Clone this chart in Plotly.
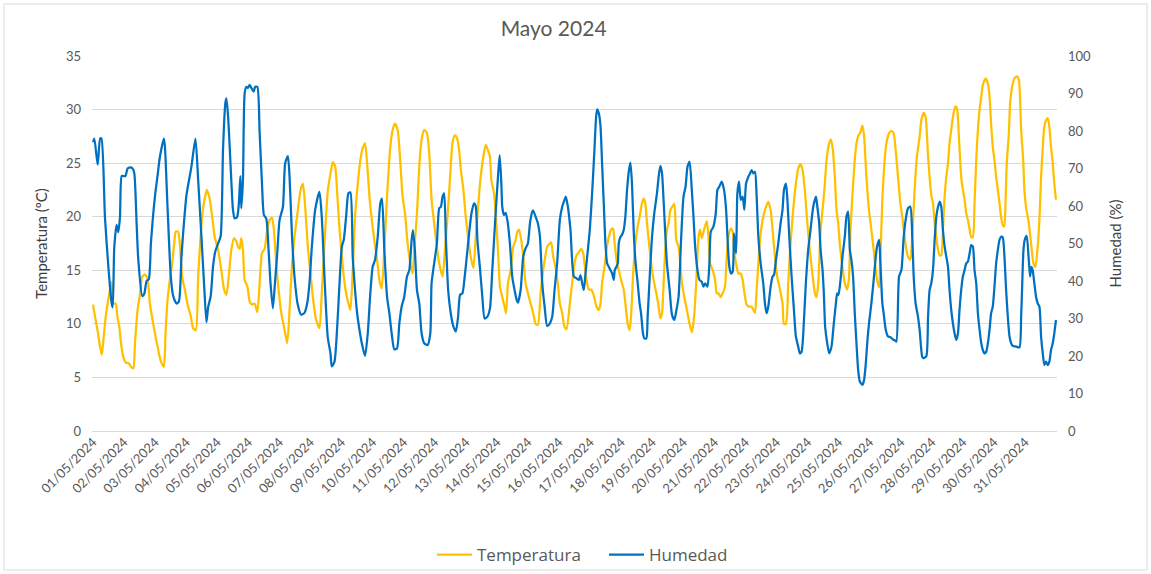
import pandas as pd
import plotly.graph_objects as go

# ---- data (hours since 01/05/2024 00:00) ----
temp_hours = [0, 1.5, 3.6, 4.6, 6.7, 8, 9.8, 11.3, 13.1, 14.4, 15.7, 17.5, 18.75, 20.3, 21.6, 23.4, 25.2, 27.7, 29.3, 31.1,
              32.4, 34.4, 36.2, 38, 40.1, 42.1, 43.9, 46.5, 48.3, 50.3, 52.4, 54.7, 56, 57.5, 59.3, 61.1, 62.7, 63.9, 65.7, 67,
              68.8, 70.9, 72.9, 75.5, 77.3, 79.4, 81.2, 83.2, 85, 88, 90.2, 92, 94, 96.6, 99.1, 101.2, 103, 104.8, 106.8, 108.9,
              110.7, 112, 113.3, 114.5, 115.8, 117.1, 119.2, 121, 122.8, 124.8, 126.9, 128.7, 130.5, 132.5, 134.6, 136.4, 138.2,
              139.7, 141.5, 143.3, 145.4, 148, 150, 151.8, 153.6, 155.6, 158.2, 160.3, 162.1, 163.9, 165.9, 168, 169.8, 172.3,
              174.9, 176.7, 178.8, 181.4, 183.4, 185.2, 187, 188.6, 190.4, 192.2, 193.7, 195.5, 197.3, 198.8, 200.6, 202.4, 204.5,
              206.5, 208.3, 210.1, 211.7, 213.5, 215.3, 217.3, 219.4, 221.2, 223, 225, 227.1, 229.6, 231.4, 233.2, 235.3, 237.4,
              239.1, 241, 243, 245.1, 246.9, 248.1, 250.2, 252, 253.8, 255.8, 257.9, 259.7, 261.5, 263.5, 265.6, 267.4, 270,
              271.8, 273.8, 275.8, 277.6, 279.4, 281, 282.8, 284.1, 286.1, 287.9, 289.7, 291.7, 293.8, 295.6, 297.4, 299.4, 301.5,
              303.3, 305.1, 306.6, 307.7, 309.7, 311, 312.8, 314.3, 316.1, 317.9, 319, 320.5, 322.6, 324.6, 326.4, 327.7, 329,
              330.8, 332.3, 334.1, 335.9, 338, 340, 341.8, 343.6, 345.7, 347.7, 349.5, 350.8, 352.9, 353.9, 355.4, 357.2, 359,
              360.6, 362.4, 364.2, 365.7, 368.3, 370.1, 371.9, 373.5, 375.3, 377.1, 378.6, 379.6, 381.2, 383, 384.8, 386.3, 387.3,
              388.9, 390.7, 392, 393.2, 395, 396.6, 398.4, 400.2, 401.7, 402.7, 404.3, 406.1, 407.9, 409.9, 411.2, 413, 414.5,
              415.6, 417.1, 418.9, 420.7, 422.2, 424, 425.3, 426.6, 427.9, 430, 431.8, 433.5, 435.1, 436.9, 438.2, 439.5, 440.7,
              442, 443.3, 444.6, 445.9, 447.2, 449, 450.5, 452.3, 453.6, 454.9, 456.7, 458.7, 460.8, 462.6, 464.3, 465.9, 467.7,
              468.9, 470.2, 472, 474.1, 475.4, 476.6, 478.7, 480.5, 481.8, 483.1, 484.9, 486.9, 488.2, 489.5, 490.8, 492.6, 494.1,
              495.1, 496.7, 498.5, 500.3, 501.8, 502.8, 504.9, 506.9, 508.7, 510, 511.3, 512.6, 513.9, 515.7, 517.7, 519.8, 521.6,
              523.4, 524.9, 526.7, 528.5, 530.6, 532.6, 533.7, 535.2, 537, 538.8, 540.8, 542.9, 544.7, 546.5, 548, 549.8, 551.6,
              553.7, 556.3, 557.6, 558.9, 560.2, 562, 564, 565.3, 566.6, 568.6, 569.9, 571.2, 573, 574.3, 575.6, 576.8, 578.9,
              580.7, 582.5, 583.8, 585.1, 587.1, 588.4, 589.7, 591, 592.8, 594.3, 595.6, 597.4, 599.4, 601.2, 603, 604.6, 605.6,
              607.2, 608.2, 609.7, 611.5, 612.8, 614.9, 616.7, 618.4, 620, 621.8, 623.6, 625.1, 626.9, 628.7, 630.3, 631.3, 632.8,
              634.6, 636.4, 638.5, 639.8, 641.6, 643.1, 645, 646.2, 647.5, 648.8, 650.1, 651.4, 652.7, 654, 655.2, 656.5, 657.8,
              659.1, 660.4, 661.6, 662.9, 664.7, 666.3, 667.5, 668.8, 670.6, 671.9, 673.2, 674.5, 675.8, 677.1, 678.3, 679.6,
              680.9, 682.2, 683.5, 684.8, 686.1, 687.3, 689.4, 691.2, 692.5, 693.7, 695, 696.3, 697.6, 698.9, 700.2, 701.4, 702.7,
              703.8, 704.8, 705.8, 707.4, 708.4, 709.9, 711.7, 713.5, 715.1, 716.9, 718.5, 719.4, 720.7, 722.8, 724.6, 726.4,
              727.9, 729.7, 731, 732.3, 733.6, 734.8, 736.1, 737.4, 738.7, 740, 741.3, 742.5, 743.8]
temp_values = [11.8, 10.7, 9.3, 8.5, 7.1, 8.5, 10.7, 11.9, 13.2, 13.9, 11.9, 11.9, 10.7, 9.7, 8.2, 6.9, 6.4, 6.3, 6.0, 5.85,
               8.2, 11.3, 12.7, 14.4, 14.6, 14.2, 11.9, 10, 8.8, 7.6, 6.5, 6.0, 9.1, 12.2, 14.1, 15.6, 17.5, 18.6, 18.6, 17.5,
               14.4, 13.2, 11.9, 10.7, 9.6, 9.4, 14.4, 18.4, 20.8, 22.5, 21.6, 20, 18.1, 16.9, 15, 13.2, 12.7, 14.4, 16.9, 18,
               17.7, 17.2, 17, 18, 16.9, 14.1, 13.5, 12.1, 11.8, 11.9, 11.1, 13.8, 16.6, 17, 18.8, 19.7, 19.9,
               18.8, 15.6, 13.2, 11, 9.4, 8.2, 11.3, 15.3, 18.1, 20.6, 22.5, 23.1, 20.9, 17.2, 14.7, 12.5, 10.4,
               9.6, 12.9, 17.5, 22.5, 24, 25.1, 24.7, 22.2, 18.8, 16.3, 14.4, 12.85, 11.9, 11.3, 15, 20, 23.1,
               25.3, 26.4, 26.85, 25, 21.9, 19.7, 17.8, 16, 14.1, 13.3, 16.9, 21.9, 26.5, 28.1, 28.7, 28.1, 25,
               21.9, 20.3, 17.5, 15.65, 14.7, 16.9, 20.3, 24.7, 27.2, 28.1, 27.8, 25.9, 21.6, 19.4, 17.2, 15.65, 14.4,
               16.9, 20, 23.7, 26.85, 27.6, 27.4, 26.2, 24.4, 22.5, 20, 18.1, 16.3, 15.2, 18.1, 20.9, 23.7, 25.6,
               26.7, 26.2, 25.6, 23.4, 22.2, 20.3, 16.9, 13.5, 12.5, 11.6, 11, 13.8, 15, 17.2, 17.8, 18.6, 18.8,
               17.8, 16.3, 13.8, 12.85, 11.9, 11, 10, 9.9, 12.85, 15, 16.4, 17.2, 17.5, 17.6, 16.3, 15.3, 13.8,
               11.9, 11, 9.7, 9.5, 11.9, 13.8, 15.65, 16.4, 16.7, 17, 16.6, 15.65, 14.1, 13.2, 13.2, 12.85, 12.4,
               11.6, 11.3, 11.9, 13.8, 15.3, 16.9, 18.1, 18.8, 18.9, 17.8, 16, 15, 14.1, 13.2, 11.9, 10, 9.4,
               10.7, 14.4, 17.5, 19.1, 20, 21.25, 21.7, 21.25, 19.4, 16.9, 15, 13.8, 12.85, 11.6, 10.5, 11, 13.8,
               16.9, 18.8, 19.4, 20.6, 20.9, 21.2, 17.8, 17.2, 15.65, 13.8, 12.5, 11.3, 10, 9.2, 10.7, 13.8, 18.1,
               18.8, 18, 18.8, 19.6, 18.1, 15.65, 15, 14.1, 12.85, 12.85, 12.5, 13, 13.5, 16.3, 18.1, 18.9, 18.6,
               16.9, 15.65, 14.7, 14.7, 14.1, 13.2, 11.8, 11.6, 11.6, 11.3, 11, 13.2, 15.65, 18.45, 20, 20.9, 21.4,
               20.6, 18.8, 16.3, 14.4, 13.2, 11.9, 10, 10, 13.8, 17.5, 20.6, 23.1, 24.5, 24.9, 24.4, 22.5, 19.6,
               16.8, 14, 12.85, 12.5, 13.8, 18.8, 21.25, 23.1, 25.3, 26.85, 27.2, 26.5, 23.7, 20.6, 19.4, 17.5, 15.3,
               13.8, 13.2, 14.1, 18.8, 23.1, 25.3, 26.85, 27.5, 27.9, 28.5, 27.5, 23.7, 20.6, 18.8, 16.9, 15, 14.1,
               13.4, 16.3, 21.6, 25.3, 26.85, 27.8, 28, 27.8, 26.2, 23.7, 21.25, 20, 18.1, 16.6, 16.1, 16, 18.1,
               22.5, 25.6, 27.5, 29, 29.7, 29.3, 25.6, 23.7, 22, 21.25, 19.4, 18.1, 16.9, 16.4, 16.4, 18.8, 21.9,
               23.7, 25, 26.85, 28.1, 29.65, 30.3, 30, 27.5, 23.7, 22.5, 21.6, 20.3, 19.7, 18.8, 18.1, 18.1,
               21.25, 25.3, 28.1, 30, 31.2, 32.3, 32.9, 32.45, 31.2, 28.7, 26.5, 25.3, 23.7, 22.5, 21.25, 20, 19.2,
               19.1, 21.25, 25, 27.8, 30.6, 32.1, 32.9, 33.1, 32.8, 28.1, 25.3, 22.5, 20.9, 19.4, 17.5, 15.65,
               15.3, 17.2, 19.7, 23.7, 26.5, 28.4, 29, 29.2, 28.4, 26.5, 25, 23.1, 21.6]

hum_hours = [0, 1, 3.6, 5.5, 6.5, 9.2, 11.8, 14.4, 15.2, 16.4, 18.2, 19.5, 20.8, 22.1, 23.4, 25, 26.7, 28.5, 30.6, 31.9,
             33.7, 34.9, 38, 39.5, 41.4, 43.1, 44.7, 47.8, 49.8, 51.6, 54.7, 55.5, 57.5, 60.1, 61.9, 64.5, 66.3, 68.3, 70.1,
             72.2, 76, 79.1, 81.2, 83.7, 85.8, 87.6, 88.9, 90.9, 92.7, 94.5, 96.6, 98.6, 100.4, 102.2, 103, 104.3, 106.3, 108.1,
             109.4, 111.2, 112.5, 113.8, 114.5, 115.8, 117.1, 118.4, 119.7, 121, 122.3, 124, 125.3, 126.9, 128.7, 130.5, 132,
             133.8, 135.6, 137.1, 138.9, 140.7, 142.3, 144.1, 146.7, 148.4, 150.5, 151.8, 153.6, 155.6, 158.2, 160.8, 163.3,
             165.4, 167.2, 169, 171.6, 174.9, 176.7, 178.8, 181.3, 183.4, 184.4, 186.5, 188.6, 190.4, 192.2, 193.7, 195.5,
             197.3, 198.8, 200.6, 202.4, 204, 205.8, 207.6, 210.1, 212.2, 214, 216, 217.8, 219.9, 221.9, 223.2, 225, 227.1,
             228.9, 230.7, 232.7, 234.8, 236.6, 238.4, 240.4, 242.5, 244.3, 246.1, 247.1, 248.6, 250.2, 252, 253.8, 255.8,
             258.4, 260.5, 261.5, 263.5, 265.6, 267.4, 268.7, 270, 271.2, 272.5, 274.3, 276.3, 278.4, 280.2, 282, 283.5, 285.3,
             287.1, 288.7, 290.5, 292.3, 294.3, 295.6, 296.9, 299, 300.7, 302.5, 304.6, 306.6, 308.4, 310.2, 311.8, 312.8,
             314.1, 315.4, 316.1, 317.4, 318.7, 320, 322, 323.8, 325.6, 327.2, 328.2, 330.3, 332.3, 334.1, 335.9, 337.5, 339.3,
             340, 341.8, 343.6, 345.2, 347, 348.8, 350.8, 352.9, 354.7, 356.5, 358.5, 360.6, 362.4, 364.2, 365.2, 366.7, 368.8,
             371.4, 373.5, 375.3, 376.5, 377.8, 379.1, 380.4, 381.7, 383.7, 385.5, 387.3, 388.6, 389.4, 390.7, 392, 393.2,
             394.5, 395.8, 397.1, 398.4, 399.7, 401, 402.2, 403, 404.3, 405.3, 406.1, 407.4, 408.6, 409.9, 411.2, 412.5, 414,
             415.1, 416.3, 417.6, 418.9, 420.7, 422.2, 423.3, 424.8, 425.8, 427.4, 428.4, 430, 431.8, 433.5, 435.6, 436.9,
             438.2, 439.5, 440.7, 442, 443.3, 445.4, 447.2, 449, 450.5, 452.3, 454.1, 456.1, 457.7, 459.2, 460.8, 462.5, 463.8,
             465.1, 466.9, 468.4, 470.2, 471.5, 472.8, 474.6, 476.1, 477.2, 479.2, 481, 482.3, 483.8, 485.6, 487.4, 489, 490.3,
             491.5, 492.8, 494.1, 495.1, 496.7, 497.7, 499, 500.3, 501.8, 503.1, 504.4, 506.2, 507.5, 508.7, 510, 511.3, 512.6,
             513.9, 515.7, 517.7, 519, 520.3, 521.6, 523.4, 524.9, 526, 527.5, 529.3, 531.1, 532.6, 533.7, 535.2, 536.2, 537.8,
             539.6, 541.4, 542.9, 544.7, 546, 547.3, 548.6, 550.6, 552.4, 554.2, 556.3, 558.4, 559.4, 560.9, 562, 563.5, 564.5,
             565.5, 567.1, 568.6, 570.4, 572.2, 573.8, 574.8, 575.8, 577.4, 578.9, 580.7, 582, 583.3, 584.6, 585.8, 587.1,
             588.4, 589.7, 591, 592.3, 594.3, 595.6, 596.9, 598.2, 599.4, 601.2, 603, 604.6, 605.6, 607.2, 608.2, 609.7, 610.7,
             612.3, 614.1, 615.9, 617.9, 619.2, 620.5, 622.6, 624.4, 626.2, 627.7, 629.5, 631.3, 632.8, 633.9, 635.4, 637.2,
             638.5, 640.5, 641.6, 643.7, 645, 646.2, 647.5, 648.8, 650.1, 651.4, 652.7, 654, 655.2, 656.5, 657.8, 659.1, 660.4,
             661.6, 662.9, 664.2, 665.5, 666.8, 668.1, 669.3, 670.6, 671.9, 673.2, 674.5, 675.8, 677.1, 678.3, 679.6, 680.9,
             682.2, 683.5, 684.8, 686.1, 687.3, 688.6, 689.9, 691.2, 692.5, 693.7, 695, 696.3, 697.6, 698.9, 700.2, 701.4,
             702.7, 704, 705.3, 706.6, 707.9, 709.2, 710.4, 713, 715.6, 716.9, 717.6, 718.7, 719.7, 721.2, 722.8, 723.8, 724.8,
             725.8, 727.1, 728.4, 729.7, 731, 732.3, 733.6, 734.8, 736.1, 737.4, 738.7, 740, 741.3, 742.5, 743.8]
hum_values = [77, 78, 71, 78, 78, 57, 44, 34, 33, 49, 55, 53, 57, 68, 68, 68, 70, 70.3, 70, 68.7,
              55, 46, 36, 36.5, 40, 40.5, 50, 62.5, 68, 73, 78, 76, 60, 41, 36, 34, 34.5, 46.5, 55,
              63, 70.5, 78, 67, 52, 39, 29, 33, 36, 44, 48, 50, 52, 75, 87.4, 88.7, 84, 70.5, 59,
              56.7, 57, 60, 68, 59.4, 67, 90, 91.8, 91.5, 92.3, 91.5, 90.5, 91.8, 91.8, 79.4, 66, 57.6,
              56.7, 48.3, 39.4, 32.7, 40.3, 47.4, 56.3, 59.8, 71.4, 73.3, 67.8, 52.7, 41.2, 33.6, 31, 31.5,
              34, 39.4, 49, 59, 63.8, 57, 41, 25, 20.7, 17.2, 18.5, 27.8, 39.4, 49.2, 51, 57.2,
              63.4, 63.6, 46.5, 37.6, 31.4, 27, 23.4, 20, 26, 35.8, 43.8, 45.6, 51.8, 60.7, 62, 48.3, 35.8,
              31.4, 26, 21.8, 22, 28.7, 33.2, 35.8, 41.2, 42.9, 51, 53.6, 48.3, 37.6, 34, 26, 23.4,
              22.9, 26, 39.4, 44.7, 50, 59.4, 59.8, 62.5, 63.4, 51.8, 37.6, 31.4, 27.8, 26.5, 30.5, 36.3, 36.7,
              41.2, 46.5, 52.7, 58, 60.7, 60, 51, 42.9, 35.8, 30, 30.5, 32.7, 42.9, 53.6, 62.5, 67.8,
              73.6, 66, 59.8, 57.6, 58.2, 56.3, 50, 41.2, 37.6, 35, 34.2, 37.6, 46.5, 48.7, 50, 55.4, 58.5,
              58.8, 57.2, 55.4, 51.8, 39.4, 33.2, 28, 28.7, 30.5, 37.6, 44.7, 56.3, 59.8, 61.6, 62.5, 60, 53.6,
              41.2, 40.7, 40.3, 41.6, 39.4, 37.6, 42, 46.5, 53.6, 63.4, 75, 83.8, 85.8, 84.7, 81.2, 71.4,
              60.7, 50, 44.7, 43.8, 42.9, 42, 40.3, 42.9, 43.8, 44.7, 50, 51.8, 52.3, 53.6, 57.2, 64.3, 69.6,
              71.6, 66, 53.6, 45.6, 39.4, 34, 31.4, 26, 24.7, 24.7, 30.5, 41.2, 51.8, 58, 63.4, 67.8,
              70.7, 68.7, 61.6, 52.7, 44.7, 37.6, 31, 29.6, 32, 35.8, 50, 62.5, 65.2, 70.5, 71.8, 64.3, 57.2,
              49.2, 42.9, 40.3, 39.8, 38.5, 39.4, 38.5, 44.7, 53.2, 54.5, 58, 64.3, 65.2, 66.5, 64.3, 59, 50,
              43.8, 42, 42.5, 52.7, 47.4, 63.4, 66.5, 61.6, 62.5, 59, 66, 67.8, 68.7, 69.6, 68.7, 69.1, 62.5,
              51.8, 44.7, 39.4, 34, 31.4, 33.2, 38.5, 41.2, 41.6, 45.6, 50, 55.4, 59, 64.3, 66, 62.5, 51.8,
              41.2, 32.3, 25.2, 22.5, 20.7, 21.1, 26, 39.4, 48.3, 53.6, 59.8, 62.5, 60, 55.4, 48.3, 42.9, 36.7,
              27.8, 23.4, 20.7, 22.5, 28.7, 34, 36.7, 36.3, 40.3, 46.5, 51.8, 57.2, 58.5, 48.3, 45.6, 41.2,
              31.4, 23.4, 16.3, 13.2, 12.3, 13.6, 18, 24.3, 28.7, 34, 40.3, 46.5, 49.2, 51, 44.7, 34, 31.4,
              27, 25.2, 25, 24.4, 24.2, 23.8, 41.2, 42.9, 51.8, 56.3, 59.4, 59.8, 51.8, 41.2, 34, 30.5,
              27, 19.8, 19.4, 20, 30.5, 37.6, 39.4, 42.9, 51, 57.2, 59.8, 61.2, 59.8, 53.6, 49.2, 46.5, 43.8,
              37.6, 32.3, 28.7, 26, 24.3, 26, 32.3, 37.6, 41.2, 42.9, 44.7, 45.2, 47.4, 49.6, 49.2, 42.9,
              39.4, 31.4, 27, 23.4, 21.6, 20.7, 21.1, 23.4, 27, 31.4, 33.2, 38.5, 44.7, 48.3, 51, 51.8,
              51.6, 46.5, 37.6, 30.5, 25.2, 23.4, 22.7, 22.5, 22.3, 30.5, 37.6, 48.3, 51, 52, 45.6, 41.2, 43.8,
              42.9, 39.4, 35.8, 34, 33.2, 25.2, 20.7, 17.6, 18.5, 17.6, 18.5, 21.6, 23.4, 26, 29.6]

tick_labels = ["01/05/2024", "02/05/2024", "03/05/2024", "04/05/2024", "05/05/2024", "06/05/2024", "07/05/2024",
               "08/05/2024", "09/05/2024", "10/05/2024", "11/05/2024", "12/05/2024", "13/05/2024", "14/05/2024",
               "15/05/2024", "16/05/2024", "17/05/2024", "18/05/2024", "19/05/2024", "20/05/2024", "21/05/2024",
               "22/05/2024", "23/05/2024", "24/05/2024", "25/05/2024", "26/05/2024", "27/05/2024", "28/05/2024",
               "29/05/2024", "30/05/2024", "31/05/2024"]

start = pd.Timestamp("2024-05-01 00:00")
temp_x = start + pd.to_timedelta(temp_hours, unit="h")
hum_x = start + pd.to_timedelta(hum_hours, unit="h")
tick_vals = pd.to_datetime(tick_labels, format="%d/%m/%Y")

GRAY = "#595959"
fig = go.Figure()
fig.add_trace(go.Scatter(x=temp_x, y=temp_values, name="Temperatura", mode="lines",
                         line=dict(color="#FFC000", width=2.25, shape="spline", smoothing=0.6)))
fig.add_trace(go.Scatter(x=hum_x, y=hum_values, name="Humedad", mode="lines", yaxis="y2",
                         line=dict(color="#0070C0", width=2.25, shape="spline", smoothing=0.6)))

fig.update_layout(
    width=1151, height=574,
    margin=dict(l=92, r=94, t=56, b=143, autoexpand=False),
    paper_bgcolor="white", plot_bgcolor="white",
    title=dict(text="Mayo 2024", x=0.481, xanchor="center", y=0.95, yanchor="middle",
               font=dict(family="Lato", size=21, color=GRAY)),
    xaxis=dict(range=[start - pd.Timedelta(minutes=48), start + pd.Timedelta(hours=744.6)],
               tickmode="array", tickvals=tick_vals, ticktext=tick_labels, tickangle=-45,
               tickfont=dict(family="Lato", size=13, color=GRAY), showgrid=False, zeroline=False,
               showline=False, ticks=""),
    yaxis=dict(range=[0, 35], dtick=5, showgrid=True, gridcolor="#D9D9D9", gridwidth=1,
               zeroline=True, zerolinecolor="#D9D9D9", zerolinewidth=1,
               tickfont=dict(family="Lato", size=13, color=GRAY), ticks="", showline=False,
               ticklabelstandoff=10,
               title=dict(text="Temperatura (ºC)", font=dict(family="Lato", size=15, color="#404040"), standoff=14)),
    yaxis2=dict(range=[0, 100], dtick=10, overlaying="y", side="right", showgrid=False, zeroline=False,
                tickfont=dict(family="Lato", size=13, color=GRAY), ticks="", showline=False,
                ticklabelstandoff=10,
                title=dict(text="Humedad (%)", font=dict(family="Lato", size=15, color="#404040"), standoff=20)),
    legend=dict(orientation="h", x=0.3523, xanchor="left", y=-0.3307, yanchor="middle",
                font=dict(family="Open Sans", size=17, color=GRAY), itemwidth=35,
                entrywidth=122, entrywidthmode="pixels",
                bgcolor="rgba(0,0,0,0)"),
    showlegend=True,
)

fig.add_shape(type="rect", xref="paper", yref="paper", x0=-0.0912, x1=1.0933, y0=-0.3707, y1=1.1387,
              line=dict(color="#D9D9D9", width=1), fillcolor="rgba(0,0,0,0)", layer="below")

fig.write_html("out.html", config={"displayModeBar": False},
               post_script="document.body.style.margin='0';")
